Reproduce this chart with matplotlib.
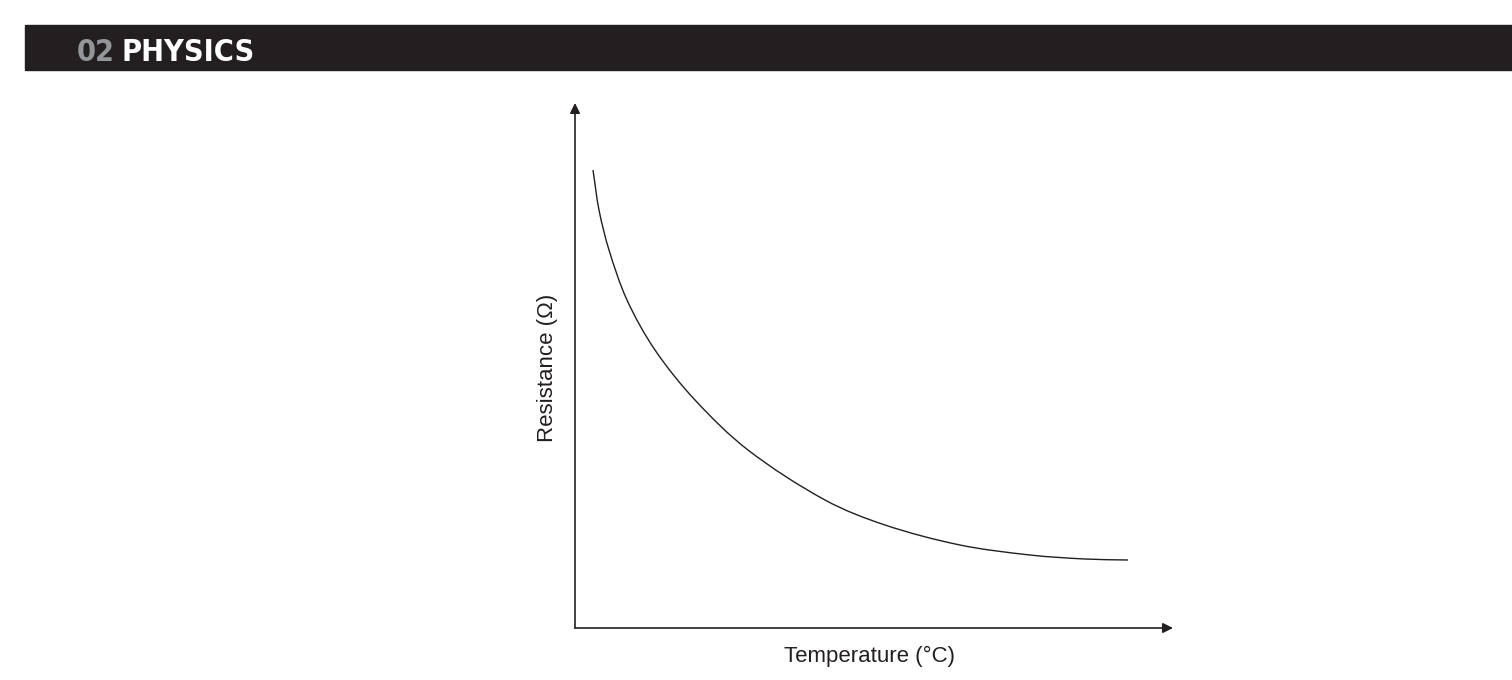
import matplotlib
matplotlib.use("Agg")
import matplotlib.pyplot as plt
from matplotlib.patches import Rectangle, PathPatch
from matplotlib.path import Path
from matplotlib import font_manager

# values (arbitrary units)
temperature = [18, 24, 34, 52, 80, 120, 173, 250, 310, 385, 455, 510, 553]
resistance = [458, 418, 378, 328, 278, 228, 178, 128, 103, 83, 73, 69, 68]

section_num = "02"
section_name = "PHYSICS"
x_label = "Temperature (°C)"
y_label = "Resistance (Ω)"

ink = "#231f20"
W, H = 1512, 680

plt.rcParams['font.family'] = ['Liberation Sans', 'DejaVu Sans']

fig = plt.figure(figsize=(W / 100, H / 100), dpi=100)

# header bar
fig.patches.append(Rectangle((25 / W, 1 - 70 / H), 1 - 25 / W, 45 / H,
                             transform=fig.transFigure, color=ink, zorder=0))
names = {f.name for f in font_manager.fontManager.ttflist}
if 'DejaVu Sans Condensed' in names:
    hfont = dict(family='DejaVu Sans Condensed', weight='bold', size=22)
else:
    hfont = dict(family='DejaVu Sans', stretch='condensed', weight='bold', size=22)
t1 = fig.text(77 / W, 1 - 61 / H, section_num, color="#939598", va='baseline', **hfont)
fig.canvas.draw()
r = fig.canvas.get_renderer()
bb = t1.get_window_extent(r)
fig.text((bb.x1 + 7) / W, 1 - 61 / H, section_name, color="white", va='baseline', **hfont)

# plot area: axis origin at (575, 628) px, arrows ending at x=1173 and y=103
left, right, top, bottom = 575, 1173, 103, 628
ax = fig.add_axes([left / W, 1 - bottom / H, (right - left) / W, (bottom - top) / H])
ax.set_xlim(0, right - left)
ax.set_ylim(0, bottom - top)
for s in ax.spines.values():
    s.set_visible(False)
ax.set_xticks([])
ax.set_yticks([])
ax.patch.set_alpha(0)

# smooth curve through the read points (chord-length Hermite as cubic Beziers)
pts = list(zip(temperature, resistance))
n = len(pts)
t = [0.0]
for i in range(1, n):
    dx = pts[i][0] - pts[i - 1][0]
    dy = pts[i][1] - pts[i - 1][1]
    t.append(t[-1] + (dx * dx + dy * dy) ** 0.5)
tang = []
for i in range(n):
    a = max(i - 1, 0)
    b = min(i + 1, n - 1)
    dt = t[b] - t[a]
    tang.append(((pts[b][0] - pts[a][0]) / dt, (pts[b][1] - pts[a][1]) / dt))
verts = [pts[0]]
codes = [Path.MOVETO]
for i in range(n - 1):
    h = (t[i + 1] - t[i]) / 3
    c1 = (pts[i][0] + tang[i][0] * h, pts[i][1] + tang[i][1] * h)
    c2 = (pts[i + 1][0] - tang[i + 1][0] * h, pts[i + 1][1] - tang[i + 1][1] * h)
    verts += [c1, c2, pts[i + 1]]
    codes += [Path.CURVE4] * 3
ax.add_patch(PathPatch(Path(verts, codes), fill=False, edgecolor=ink, lw=1.0))

arrow = dict(arrowstyle='-|>', color=ink, lw=1.2, mutation_scale=15, shrinkA=0, shrinkB=0)
ax.annotate("", xy=(1, 0), xytext=(0, 0), xycoords='axes fraction', arrowprops=arrow)
ax.annotate("", xy=(0, 1), xytext=(0, 0), xycoords='axes fraction', arrowprops=arrow)

fig.text(869 / W, 1 - 656 / H, x_label, ha='center', va='center', fontsize=16, color=ink)
fig.text(547 / W, 1 - 368 / H, y_label, ha='center', va='center', rotation=90,
         fontsize=16, color=ink)

fig.savefig("out.png", dpi=100, facecolor="white")
